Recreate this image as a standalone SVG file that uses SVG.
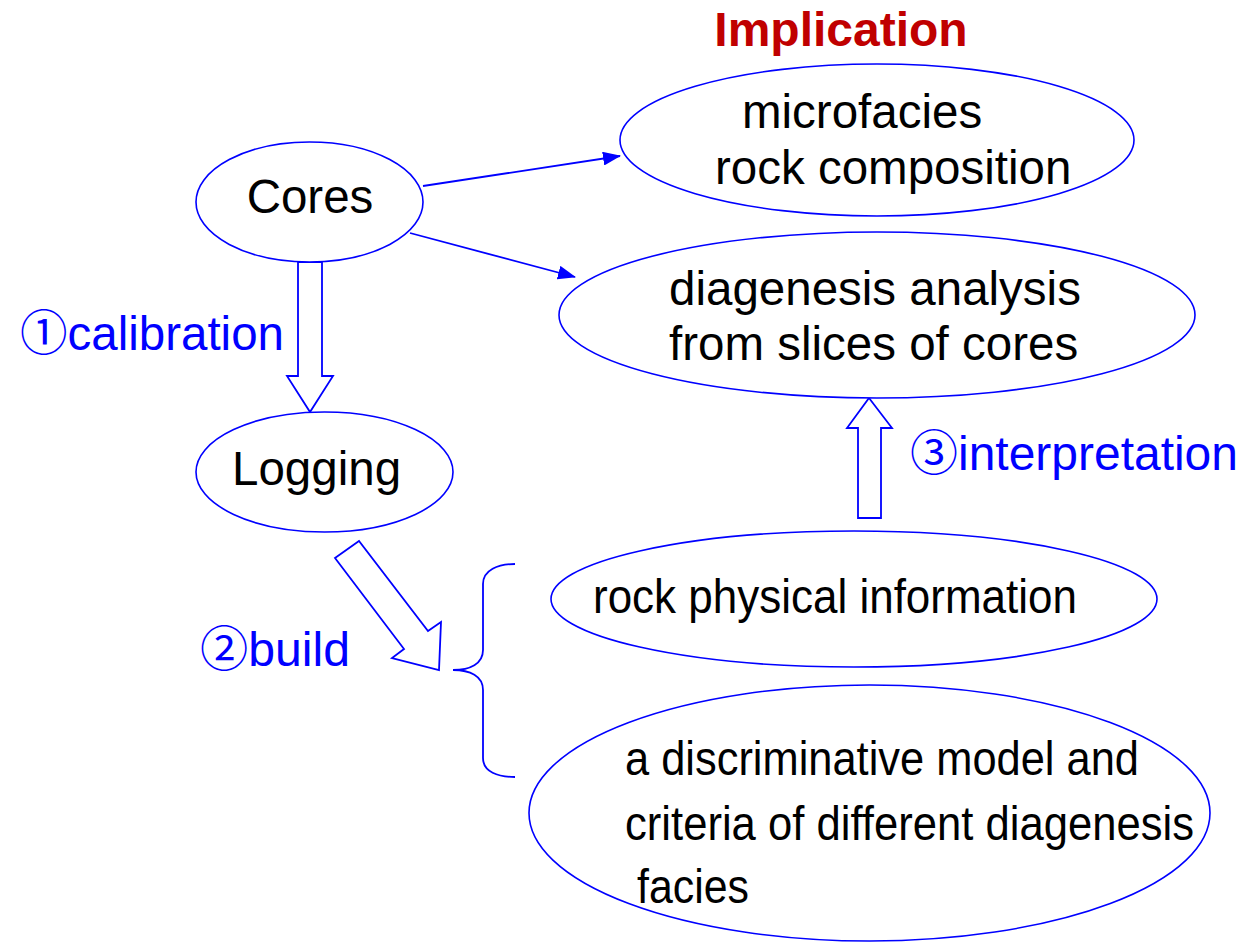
<svg xmlns="http://www.w3.org/2000/svg" width="1243" height="944" viewBox="0 0 1243 944">
<style>
.node{fill:#fff;stroke:#0000ff;stroke-width:1.6}
.t{font-family:"Liberation Sans",Arial,sans-serif;font-size:47.5px;fill:#000}
.lb{font-family:"Liberation Sans","DejaVu Sans",Arial,sans-serif;font-size:47.5px;fill:#0000ff}
.cd{font-family:"Noto Sans CJK JP","DejaVu Sans",sans-serif}
.blk{fill:#fff;stroke:#0000ff;stroke-width:1.8;stroke-linejoin:miter}
.ln{stroke:#0000ff;stroke-width:1.8;fill:none}
</style>
<defs>
<marker id="ah" markerWidth="18" markerHeight="14" refX="17" refY="7" orient="auto" markerUnits="userSpaceOnUse">
<path d="M0,0 L18,7 L0,14 Z" fill="#0000ff"/>
</marker>
</defs>
<rect width="1243" height="944" fill="#fff"/>
<text x="841" y="46" text-anchor="middle" font-family="Liberation Sans,Arial,sans-serif" font-size="48" font-weight="bold" fill="#c00000">Implication</text>
<g id="connectors">
<line class="ln" x1="423" y1="186" x2="620" y2="156" marker-end="url(#ah)"/>
<line class="ln" x1="410" y1="233" x2="575" y2="277" marker-end="url(#ah)"/>
<polygon class="blk" points="298,262 322,262 322,376 333,376 310,412 287,376 298,376"/>
<polygon class="blk" points="335,558 359,541 428,631 441,622 439,670 392,658 404,649"/>
<polygon class="blk" points="869,398 892,428 881,428 881,518 858,518 858,428 847,428"/>
<path class="ln" stroke-width="1.4" d="M515,564 C498,564 483,570 483,584 L483,650 C483,664 470,670 453,670 C470,670 483,676 483,690 L483,758 C483,772 498,777 515,777"/>
<text class="lb" x="20" y="350" textLength="264" lengthAdjust="spacingAndGlyphs"><tspan class="cd">①</tspan>calibration</text>
<text class="lb" x="200" y="666" textLength="150" lengthAdjust="spacingAndGlyphs"><tspan class="cd">②</tspan>build</text>
<text class="lb" x="910" y="470" textLength="328" lengthAdjust="spacingAndGlyphs"><tspan class="cd">③</tspan>interpretation</text>
</g>
<g id="cores">
<ellipse class="node" cx="309.5" cy="202" rx="113.5" ry="60"/>
<text class="t" x="310" y="213" text-anchor="middle">Cores</text>
</g>
<g id="microfacies">
<ellipse class="node" cx="877" cy="140" rx="257" ry="76"/>
<text class="t" x="742" y="128">microfacies</text>
<text class="t" x="715" y="184">rock composition</text>
</g>
<g id="diagenesis">
<ellipse class="node" cx="877" cy="315" rx="318" ry="83"/>
<text class="t" x="669" y="305">diagenesis analysis</text>
<text class="t" x="669" y="360">from slices of cores</text>
</g>
<g id="logging">
<ellipse class="node" cx="324.5" cy="472" rx="128.5" ry="60"/>
<text class="t" x="232" y="485">Logging</text>
</g>
<g id="rockphys">
<ellipse class="node" cx="854" cy="599" rx="303" ry="68"/>
<text class="t" x="593" y="613" textLength="484" lengthAdjust="spacingAndGlyphs">rock physical information</text>
</g>
<g id="model">
<ellipse class="node" cx="869.5" cy="813" rx="340.5" ry="128"/>
<text class="t" x="625" y="775" textLength="514" lengthAdjust="spacingAndGlyphs">a discriminative model and</text>
<text class="t" x="625" y="840" textLength="569" lengthAdjust="spacingAndGlyphs">criteria of different diagenesis</text>
<text class="t" x="637" y="903" textLength="112" lengthAdjust="spacingAndGlyphs">facies</text>
</g>
</svg>
